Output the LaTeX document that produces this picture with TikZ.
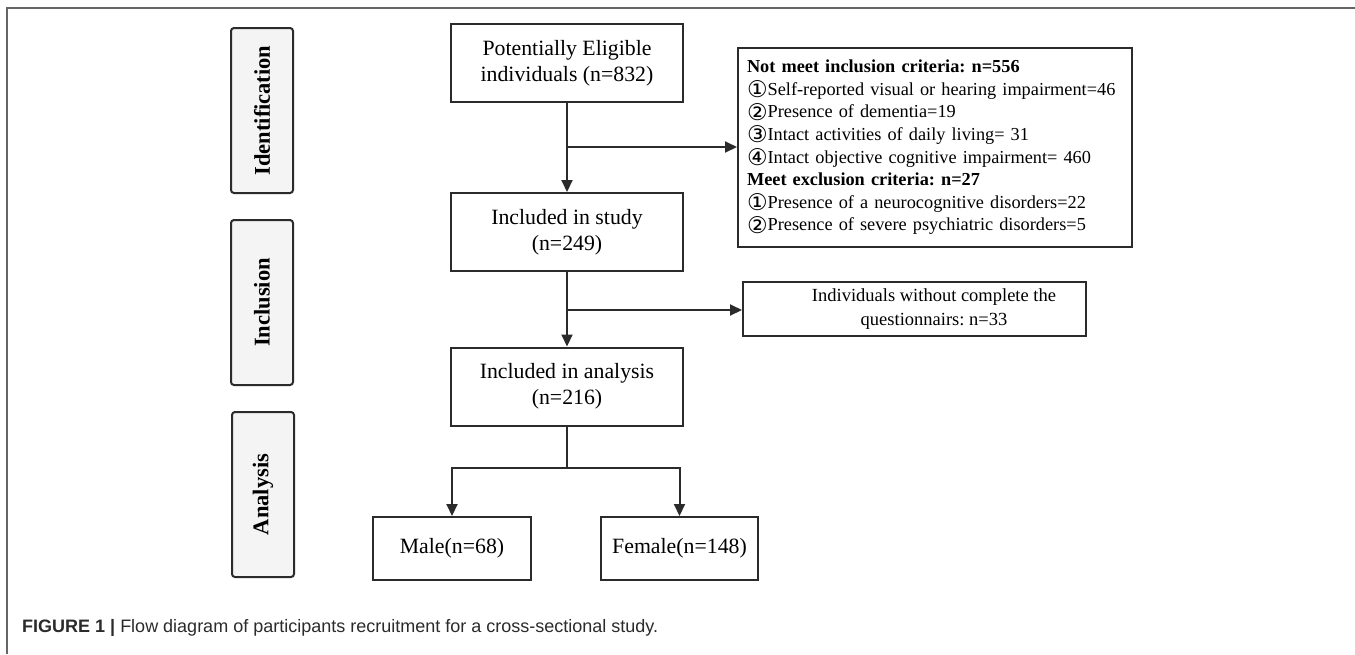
\documentclass[tikz,border=0pt]{standalone}
\usepackage{fontspec}
\setmainfont{Liberation Serif}
\newfontfamily\capfont{Liberation Sans}
\newfontfamily\symfont{DejaVu Sans}
\usetikzlibrary{arrows.meta}
\definecolor{ink}{HTML}{2B2B2B}
\definecolor{phasefill}{HTML}{F4F4F4}
\definecolor{framecol}{HTML}{666666}
\newcommand{\cn}[1]{\smash{\raisebox{-2.2pt}{\symfont\fontsize{23}{23}\selectfont #1}}}
\tikzset{
  mainbox/.style={draw=ink, line width=2pt, minimum width=232pt, minimum height=78pt, align=center, inner sep=4pt,
    font=\fontsize{21.8}{26}\selectfont, text=black},
  phasebox/.style={draw=ink, fill=phasefill, line width=2pt, rounded corners=3pt, rotate=90,
    minimum width=165pt, minimum height=62pt, font=\bfseries\fontsize{22.5}{26}\selectfont},
  conn/.style={draw=ink, line width=2pt},
  arr/.style={conn, -{Triangle[length=12pt,width=11pt]}},
}
\begin{document}
\frenchspacing
\begin{tikzpicture}[x=1pt,y=-1pt]
\useasboundingbox (0,0) rectangle (1355,654);
\fill[white] (0,0) rectangle (1355,654);
% frame
\draw[framecol, line width=1.5pt] (7,654) -- (7,8) -- (1355,8);
% phase boxes
\node[phasebox] (ident) at (262,110.5) {Identification};
\node[phasebox] (incl) at (262,302.5) {Inclusion};
\node[phasebox] (anal) at (263,494.5) {Analysis};
% main boxes
\node[mainbox] (elig) at (567,63) {Potentially Eligible\\individuals (n=832)};
\node[mainbox] (study) at (567,232) {Included in study\\(n=249)};
\node[mainbox] (analysis) at (567,386.5) {Included in analysis\\(n=216)};
\node[mainbox, minimum width=158pt, minimum height=63pt] (male) at (452,548.5) {Male(n=68)};
\node[mainbox, minimum width=157pt, minimum height=63pt] (female) at (679.5,548.5) {Female(n=148)};
% exclusion box 1
\node[draw=ink, line width=2pt, minimum width=394pt, minimum height=199pt, text width=376pt,
  inner xsep=9pt, align=left, font=\fontsize{18.3}{22.6}\selectfont] (excl1) at (935,147.5)
{\textbf{Not meet inclusion criteria: n=556}\\
\cn{①}Self-reported visual or hearing impairment=46\\
\cn{②}Presence of dementia=19\\
\cn{③}Intact activities of daily living= 31\\
\cn{④}Intact objective cognitive impairment= 460\\
\textbf{Meet exclusion criteria: n=27}\\
\cn{①}Presence of a neurocognitive disorders=22\\
\cn{②}Presence of severe psychiatric disorders=5};
% exclusion box 2
\node[draw=ink, line width=2pt, minimum width=343pt, minimum height=54pt] (excl2) at (914.5,309) {};
\node[align=center, font=\fontsize{18.5}{24}\selectfont] (excl2t) at (934,309) {Individuals without complete the\\questionnairs: n=33};
% connectors
\coordinate (j1) at (567,147);
\coordinate (j2) at (567,310);
\coordinate (j3) at (567,468);
\draw[arr] (elig) -- (study);
\draw[arr] (j1) -- (j1 -| excl1.west);
\draw[arr] (study) -- (analysis);
\draw[arr] (j2) -- (j2 -| excl2.west);
\draw[conn] (analysis) -- (j3);
\draw[arr] (j3) -| (male.north);
\draw[arr] (j3) -| (female.north);
% caption
\node[anchor=base west, inner sep=0pt, text=ink, font=\capfont\fontsize{18}{22}\selectfont] (cap) at (22,632)
{\textbf{FIGURE 1 |} Flow diagram of participants recruitment for a cross-sectional study.};
\end{tikzpicture}
\end{document}
